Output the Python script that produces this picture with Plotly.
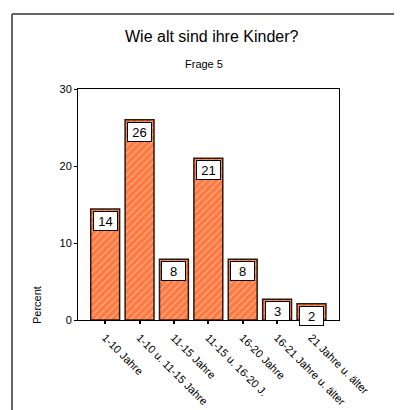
import plotly.graph_objects as go

categories = ["1-10 Jahre", "1-10 u. 11-15 Jahre", "11-15 Jahre", "11-15 u. 16-20 J.",
              "16-20 Jahre", "16-21 Jahre u. älter", "21 Jahre u. älter"]
percent = [14.4, 26.0, 7.9, 21.0, 7.9, 2.7, 2.1]
labels = ["14", "26", "8", "21", "8", "3", "2"]
y_ticks = [0, 10, 20, 30]

FONT = "Liberation Sans, Arial, sans-serif"
OFF = 8  # page body margin
W, H = 402 - OFF, 410 - OFF
L, R, T = 78 - OFF, 63, 89 - OFF
B = H - (320 - OFF)
pw, ph = W - L - R, H - T - B

def px_x(px):
    return (px - OFF - L) / pw

def px_y(py):
    return (H - B - (py - OFF)) / ph

fig = go.Figure()
fig.add_trace(go.Bar(
    x=categories, y=percent, width=0.84,
    marker=dict(color="#FF7A40", line=dict(color="#2a1a10", width=1.5),
                pattern=dict(shape="/", fgcolor="white", bgcolor="#FF7A40", size=5, solidity=0.18)),
    hoverinfo="skip",
))

for c, v, t in zip(categories, percent, labels):
    fig.add_annotation(x=c, y=v, text=t, showarrow=False, yanchor="top", yshift=-2,
                       font=dict(family=FONT, size=13, color="black"),
                       bgcolor="white", bordercolor="black", borderwidth=1, borderpad=2,
                       width=19, height=14)

fig.add_annotation(xref="paper", yref="paper", x=px_x(212), y=px_y(36), text="Wie alt sind ihre Kinder?",
                   xanchor="center", yanchor="middle",
                   showarrow=False, font=dict(family=FONT, size=16, color="black"))
fig.add_annotation(xref="paper", yref="paper", x=px_x(204), y=px_y(64), text="Frage 5",
                   xanchor="center", yanchor="middle",
                   showarrow=False, font=dict(family=FONT, size=11, color="black"))
fig.add_annotation(xref="paper", yref="paper", x=px_x(37), y=px_y(305), text="Percent", textangle=-90,
                   xanchor="center", yanchor="middle",
                   showarrow=False, font=dict(family=FONT, size=11, color="black"))

# outer frame (top and left edges visible)
fig.add_shape(type="line", xref="paper", yref="paper",
              x0=px_x(12), x1=px_x(410), y0=px_y(14), y1=px_y(14),
              line=dict(color="#666666", width=2), layer="below")
fig.add_shape(type="line", xref="paper", yref="paper",
              x0=px_x(12), x1=px_x(12), y0=px_y(14), y1=px_y(420),
              line=dict(color="#666666", width=2), layer="below")

fig.update_layout(
    width=W, height=H, margin=dict(l=L, r=R, t=T, b=B, autoexpand=False),
    paper_bgcolor="white", plot_bgcolor="white", showlegend=False,
    font=dict(family=FONT, size=11, color="black"),
    xaxis=dict(range=[-0.79, 6.8], tickangle=45, ticks="outside", ticklen=3, tickwidth=2,
               tickcolor="black", showline=True, linecolor="black", linewidth=1, mirror=True,
               showgrid=False, tickfont=dict(family=FONT, size=11), ticklabelstandoff=3,
               automargin=False),
    yaxis=dict(range=[0, 30], tickvals=y_ticks, ticks="outside", ticklen=3, tickwidth=1,
               tickcolor="black", showline=True, linecolor="black", linewidth=1, mirror=True,
               showgrid=False, zeroline=False, tickfont=dict(family=FONT, size=11),
               automargin=False),
)

fig.write_html("out.html")
